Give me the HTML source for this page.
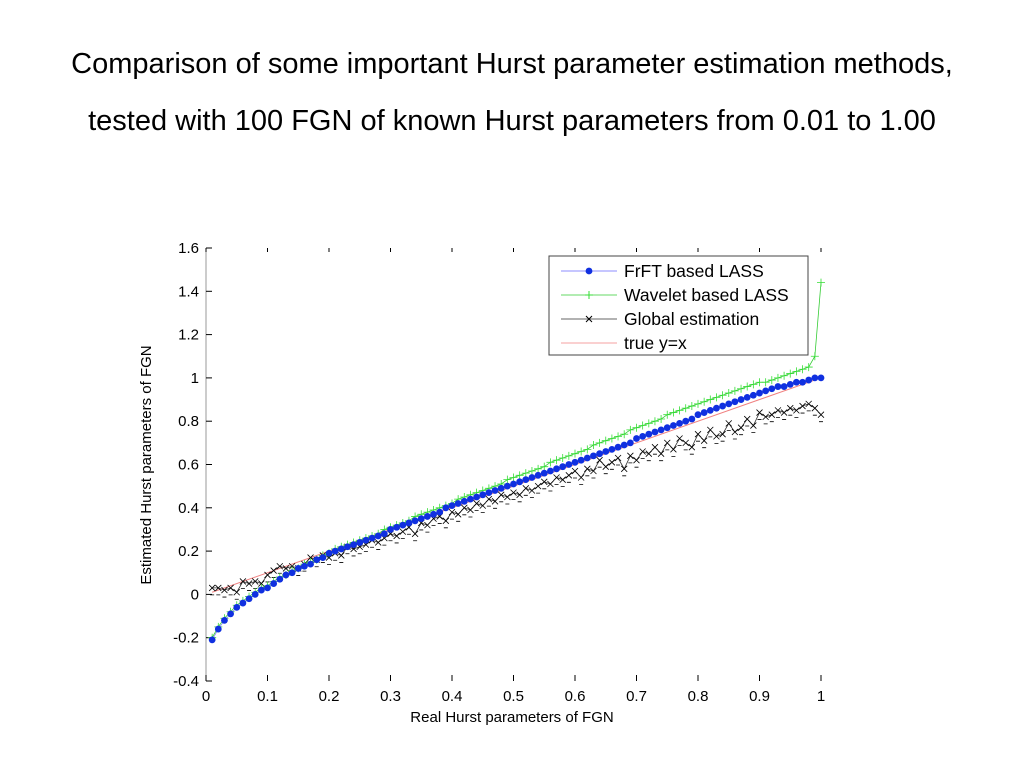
<!DOCTYPE html>
<html><head><meta charset="utf-8"><style>
body{margin:0;background:#fff;width:1024px;height:768px;overflow:hidden;font-family:"Liberation Sans",sans-serif}
.t{position:absolute;left:0;width:1024px;text-align:center;font-size:29px;color:#000;white-space:nowrap}
</style></head><body>
<div class="t" style="top:48px">Comparison of some important Hurst parameter estimation methods,</div>
<div class="t" style="top:105px">tested with 100 FGN of known Hurst parameters from 0.01 to 1.00</div>
<svg id="c" width="1024" height="768" style="position:absolute;left:0;top:0"></svg>
<script>
const xTicks=[0,0.1,0.2,0.3,0.4,0.5,0.6,0.7,0.8,0.9,1];
const xTickLabels=["0","0.1","0.2","0.3","0.4","0.5","0.6","0.7","0.8","0.9","1"];
const yTicks=[-0.4,-0.2,0,0.2,0.4,0.6,0.8,1,1.2,1.4,1.6];
const yTickLabels=["-0.4","-0.2","0","0.2","0.4","0.6","0.8","1","1.2","1.4","1.6"];
const frft=[-0.21,-0.16,-0.12,-0.09,-0.06,-0.04,-0.02,0.00,0.02,0.03,0.05,0.07,0.09,0.10,0.12,0.13,0.14,0.16,0.17,0.19,0.20,0.21,0.22,0.23,0.24,0.25,0.26,0.27,0.28,0.30,0.31,0.32,0.33,0.34,0.35,0.36,0.37,0.38,0.40,0.41,0.42,0.43,0.44,0.45,0.46,0.47,0.48,0.49,0.50,0.51,0.52,0.53,0.54,0.55,0.56,0.57,0.58,0.59,0.60,0.61,0.62,0.63,0.64,0.65,0.66,0.67,0.68,0.69,0.70,0.72,0.73,0.74,0.75,0.76,0.77,0.78,0.79,0.80,0.81,0.83,0.84,0.85,0.86,0.87,0.88,0.89,0.90,0.91,0.92,0.93,0.94,0.95,0.96,0.96,0.97,0.98,0.98,0.99,1.00,1.00];
const wavelet=[-0.20,-0.15,-0.11,-0.08,-0.05,-0.03,-0.01,0.01,0.03,0.04,0.06,0.08,0.09,0.11,0.12,0.14,0.15,0.16,0.18,0.19,0.21,0.22,0.23,0.24,0.25,0.26,0.27,0.28,0.30,0.31,0.32,0.33,0.34,0.36,0.37,0.38,0.39,0.40,0.41,0.42,0.44,0.45,0.46,0.47,0.48,0.49,0.50,0.51,0.53,0.54,0.55,0.56,0.57,0.58,0.59,0.61,0.62,0.63,0.64,0.65,0.66,0.67,0.69,0.70,0.71,0.72,0.73,0.74,0.76,0.77,0.78,0.79,0.80,0.81,0.83,0.84,0.85,0.86,0.87,0.88,0.89,0.90,0.91,0.92,0.93,0.94,0.95,0.96,0.97,0.98,0.98,0.99,1.00,1.01,1.02,1.03,1.04,1.05,1.10,1.44];
const globalEst=[0.03,0.03,0.02,0.03,0.01,0.06,0.05,0.06,0.05,0.09,0.11,0.13,0.12,0.13,0.12,0.14,0.17,0.16,0.18,0.17,0.19,0.18,0.22,0.21,0.22,0.23,0.25,0.24,0.26,0.28,0.27,0.29,0.31,0.28,0.33,0.32,0.35,0.36,0.34,0.38,0.37,0.40,0.39,0.42,0.41,0.44,0.43,0.46,0.45,0.47,0.46,0.49,0.48,0.50,0.52,0.51,0.54,0.53,0.55,0.57,0.54,0.58,0.57,0.62,0.59,0.61,0.63,0.58,0.64,0.62,0.66,0.65,0.68,0.65,0.70,0.67,0.72,0.70,0.68,0.74,0.71,0.76,0.73,0.74,0.79,0.75,0.77,0.81,0.78,0.84,0.82,0.83,0.85,0.84,0.86,0.85,0.87,0.88,0.86,0.83];
const L=206,R=821,T=248,B=681,Y0=-0.4,Y1=1.6;
const sx=v=>L+(R-L)*v, sy=v=>B-(B-T)*(v-Y0)/(Y1-Y0);
const svg=document.getElementById('c'),NS="http://www.w3.org/2000/svg";
function mk(tag,a,p){const e=document.createElementNS(NS,tag);for(const k in a)e.setAttribute(k,a[k]);(p||svg).appendChild(e);return e;}
const xs=frft.map((_,i)=>(i+1)/100);
let e;
e=mk('line',{x1:L,y1:T,x2:L,y2:B,stroke:'#999'});


xTicks.forEach((v,i)=>{
 mk('line',{x1:sx(v),y1:B-6,x2:sx(v),y2:B,stroke:'#000'});
 mk('line',{x1:sx(v),y1:T,x2:sx(v),y2:T+4,stroke:'#000'});
 const t=mk('text',{x:sx(v),y:B+20,'text-anchor':'middle','font-size':15});t.textContent=xTickLabels[i];
 
 
});
yTicks.forEach((v,i)=>{
 mk('line',{x1:L,y1:sy(v),x2:L+6,y2:sy(v),stroke:'#000'});
 const t=mk('text',{x:L-7,y:sy(v)+5,'text-anchor':'end','font-size':15});t.textContent=yTickLabels[i];
 
 
});
let t=mk('text',{x:512,y:722,'text-anchor':'middle','font-size':15});t.textContent='Real Hurst parameters of FGN';


t=mk('text',{x:0,y:0,'text-anchor':'middle','font-size':15,transform:'translate(151,465) rotate(-90)'});t.textContent='Estimated Hurst parameters of FGN';


const pts=a=>a.map((v,i)=>sx(xs[i])+','+sy(v)).join(' ');
e=mk('line',{x1:sx(0.01),y1:sy(0.01),x2:sx(1),y2:sy(1),stroke:'#f08080','stroke-width':1});


e=mk('polyline',{points:pts(globalEst),fill:'none',stroke:'#333','stroke-width':0.8});


globalEst.forEach((v,i)=>{const x=sx(xs[i]),y=sy(v);
 mk('path',{d:`M${x-3},${y-3}L${x+3},${y+3}M${x-3},${y+3}L${x+3},${y-3}M${x-2},${y+7}h4`,stroke:'#000','stroke-width':0.8});});
e=mk('polyline',{points:pts(wavelet),fill:'none',stroke:'#3c3','stroke-width':0.8});


wavelet.forEach((v,i)=>{const x=sx(xs[i]),y=sy(v);
 mk('path',{d:`M${x-4},${y}h8M${x},${y-4}v8`,stroke:'#3d3','stroke-width':0.8});});
e=mk('polyline',{points:pts(frft),fill:'none',stroke:'#66f','stroke-width':0.6});


frft.forEach((v,i)=>{const c=mk('circle',{cx:sx(xs[i]),cy:sy(v),r:3.4,fill:'#1030e0'});
 
 });
const g=mk('g',{});


mk('rect',{x:549,y:256,width:259,height:99,fill:'#fff',stroke:'#444'},g);
const ly=[271,295,319,343],labs=['FrFT based LASS','Wavelet based LASS','Global estimation','true y=x'],cols=['#66f','#3c3','#333','#f08080'];
ly.forEach((y,i)=>{mk('line',{x1:561,y1:y,x2:617,y2:y,stroke:cols[i],'stroke-width':0.8},g);
 const tt=mk('text',{x:624,y:y+6,'font-size':17.5},g);tt.textContent=labs[i];
 
 });
mk('circle',{cx:589,cy:271,r:3.4,fill:'#1030e0'},g);
mk('path',{d:'M585,295h8M589,291v8',stroke:'#3d3'},g);
mk('path',{d:'M586,316L592,322M586,322L592,316',stroke:'#000'},g);
</script>
</body></html>
